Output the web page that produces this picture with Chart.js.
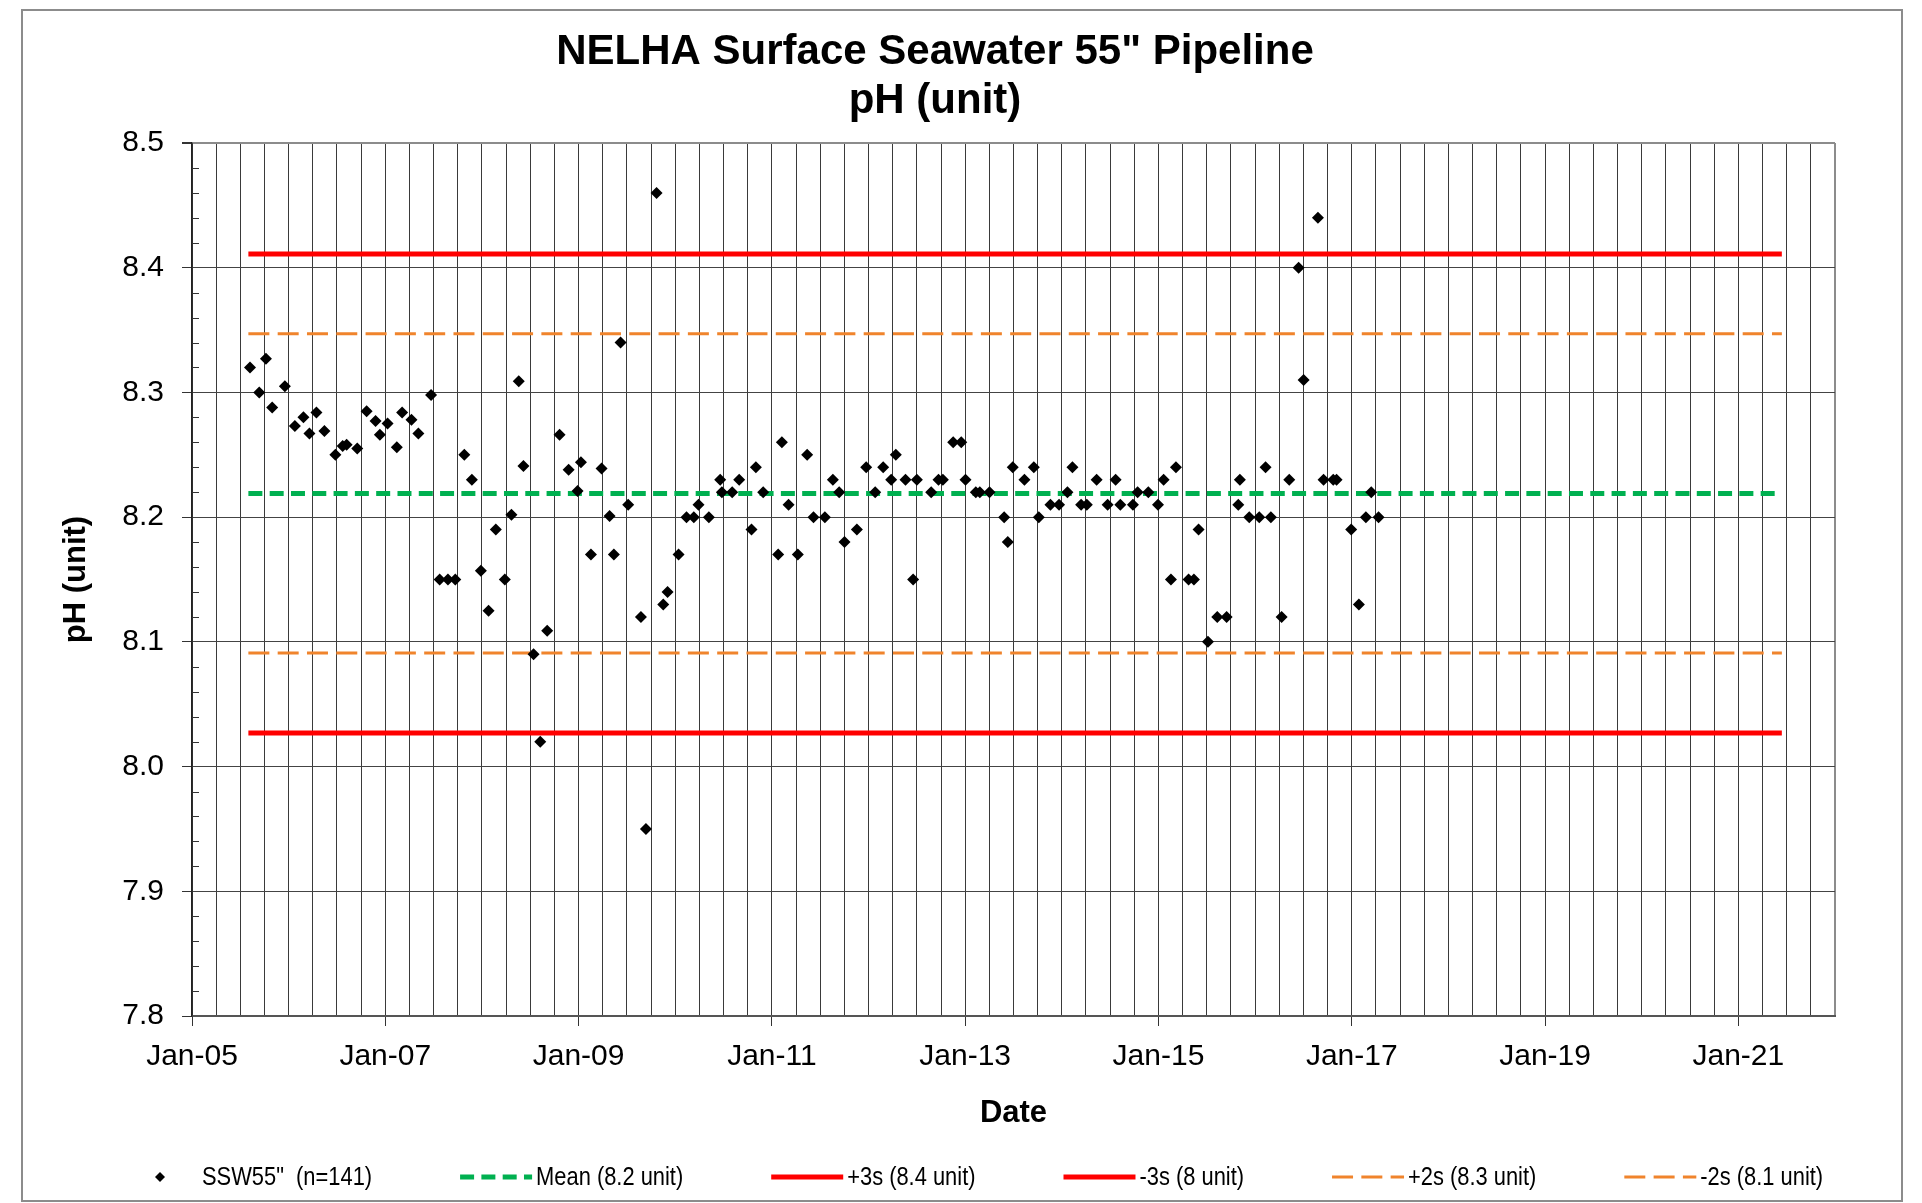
<!DOCTYPE html>
<html>
<head>
  <meta charset="utf-8">
  <title>NELHA Surface Seawater 55" Pipeline / pH</title>
  <script src="https://cdn.jsdelivr.net/npm/chart.js@4/dist/chart.umd.min.js"></script>
  <style>
    html, body { margin: 0; padding: 0; background: #fff; }
    #chartPH { display: block; }
  </style>
</head>
<body>
<canvas id="chartPH" width="1922" height="1203"></canvas>

<script>
  // sample dates, as months since Jan 2005
  var sampleMonths = [
    7.20, 8.35, 9.18, 9.96, 11.53, 12.77, 13.84, 14.58, 15.45, 16.44, 17.80, 18.71, 19.20, 20.52, 21.68, 22.79, 23.33, 24.28,
    25.43, 26.09, 27.25, 28.11, 29.68, 30.75, 31.78, 32.69, 33.81, 34.75, 35.87, 36.82, 37.72, 38.84, 39.66, 40.57, 41.15,
    42.41, 43.24, 44.10, 45.64, 46.76, 47.87, 48.29, 49.53, 50.85, 51.85, 52.38, 53.21, 54.16, 55.74, 56.36, 57.68, 58.51,
    59.05, 60.41, 61.40, 62.31, 62.89, 64.18, 65.58, 65.79, 67.07, 67.94, 69.47, 70.01, 70.92, 72.78, 73.24, 74.07, 75.22, 76.38,
    77.17, 78.58, 79.57, 80.36, 81.02, 82.55, 83.71, 84.83, 85.82, 86.81, 87.39, 88.59, 89.54, 90.00, 91.78, 92.69, 93.23,
    94.51, 95.51, 96.04, 97.32, 97.82, 99.02, 100.84, 101.29, 101.91, 103.36, 104.52, 105.14, 106.59, 107.66, 108.70, 109.32, 110.40, 111.10,
    112.32, 113.69, 114.68, 115.26, 116.83, 117.41, 118.74, 119.94, 120.64, 121.55, 122.17, 123.74, 124.40, 124.98, 126.14, 127.30, 128.46, 129.91,
    130.11, 131.27, 132.51, 133.30, 133.96, 135.29, 136.24, 137.40, 138.02, 139.80, 140.50, 141.70, 142.11, 143.93, 144.88, 145.75, 146.42, 147.33
  ];
  // pH (unit) for each sample
  var phValues = [
    8.320, 8.300, 8.327, 8.288, 8.305, 8.273, 8.280, 8.267, 8.284, 8.269, 8.250, 8.257, 8.258, 8.255, 8.285, 8.277, 8.266, 8.275,
    8.256, 8.284, 8.278, 8.267, 8.298, 8.150, 8.150, 8.150, 8.250, 8.230, 8.157, 8.125, 8.190, 8.150, 8.202, 8.309, 8.241,
    8.090, 8.020, 8.109, 8.266, 8.238, 8.221, 8.244, 8.170, 8.239, 8.201, 8.170, 8.340, 8.210, 8.120, 7.950, 8.460, 8.130,
    8.140, 8.170, 8.200, 8.200, 8.210, 8.200, 8.230, 8.220, 8.220, 8.230, 8.190, 8.240, 8.220, 8.170, 8.260, 8.210, 8.170, 8.250,
    8.20, 8.20, 8.23, 8.22, 8.18, 8.19, 8.24, 8.22, 8.24, 8.23, 8.25, 8.23, 8.15, 8.23, 8.22, 8.23, 8.23,
    8.26, 8.26, 8.23, 8.22, 8.22, 8.22, 8.20, 8.18, 8.24, 8.23, 8.24, 8.20, 8.21, 8.21, 8.22, 8.24, 8.21, 8.21,
    8.23, 8.21, 8.23, 8.21, 8.21, 8.22, 8.22, 8.21, 8.23, 8.15, 8.24, 8.15, 8.15, 8.19, 8.10, 8.12, 8.12, 8.21,
    8.23, 8.20, 8.20, 8.24, 8.20, 8.12, 8.23, 8.40, 8.31, 8.44, 8.23, 8.23, 8.23, 8.19, 8.13, 8.20, 8.22, 8.20
  ];
  var seriesName = 'SSW55"  (n=141)';

  // control limits: mean, +-3s, +-2s
  var limitNames  = ['Mean (8.2 unit)', '+3s (8.4 unit)', '-3s (8 unit)', '+2s (8.3 unit)', '-2s (8.1 unit)'];
  var limitValues = [8.219, 8.411, 8.027, 8.347, 8.091];
  var limitSpan   = [7.0, 197.4];   // months since Jan 2005 covered by the limit lines

  // axis ranges
  var monthRange = [0, 204];        // Jan-05 .. Jan-22
  var phRange    = [7.8, 8.5];

  // line styles for the limits (same order as limitNames)
  var limitStyles = [
    {color: '#00b050', width: 5, dash: [14, 7.3]},
    {color: '#ff0000', width: 5, dash: []},
    {color: '#ff0000', width: 5, dash: []},
    {color: '#f0842c', width: 3, dash: [21, 8.3]},
    {color: '#f0842c', width: 3, dash: [21, 8.3]}
  ];

  var FONT = '"Liberation Sans", Arial, sans-serif';

  function isMajorPH(v) {
    return Math.abs(v * 10 - Math.round(v * 10)) < 1e-6;
  }

  var datasets = [{
    label: seriesName,
    data: sampleMonths.map(function(m, i) { return {x: m, y: phValues[i]}; }),
    showLine: false,
    pointStyle: 'rectRot',
    pointRadius: 6,
    pointBorderWidth: 0,
    pointBackgroundColor: '#000',
    borderColor: '#000',
    order: 0
  }];
  limitNames.forEach(function(name, i) {
    var st = limitStyles[i];
    datasets.push({
      label: name,
      data: [{x: limitSpan[0], y: limitValues[i]}, {x: limitSpan[1], y: limitValues[i]}],
      showLine: true,
      pointRadius: 0,
      borderColor: st.color,
      borderWidth: st.width,
      borderDash: st.dash,
      borderCapStyle: 'butt',
      order: 1
    });
  });

  // white page with the grey frame round the whole chart
  var frame = {
    id: 'frame',
    beforeDraw: function(chart) {
      var ctx = chart.ctx;
      ctx.save();
      ctx.fillStyle = '#fff';
      ctx.fillRect(0, 0, chart.width, chart.height);
      ctx.strokeStyle = '#8c8c8c';
      ctx.lineWidth = 2;
      ctx.strokeRect(22, 10, 1880, 1191);
      ctx.restore();
    }
  };

  // small inside tick marks for the 0.02 steps on the pH axis
  var minorTicks = {
    id: 'minorTicks',
    afterDraw: function(chart) {
      var ctx = chart.ctx, y = chart.scales.y, left = chart.chartArea.left;
      ctx.save();
      ctx.strokeStyle = '#333';
      ctx.lineWidth = 1;
      y.ticks.forEach(function(t) {
        if (isMajorPH(t.value)) return;
        var py = Math.round(y.getPixelForValue(t.value)) + 0.5;
        ctx.beginPath();
        ctx.moveTo(left, py);
        ctx.lineTo(left + 7, py);
        ctx.stroke();
      });
      ctx.restore();
    }
  };

  // legend in one row along the bottom, like the spreadsheet one
  // (no narrow font installed, so the text is squeezed a little)
  var bottomLegend = {
    id: 'bottomLegend',
    afterDraw: function(chart) {
      var ctx = chart.ctx;
      var x = 150, y = 1177, squeeze = 0.875;
      ctx.save();
      ctx.font = '25px ' + FONT;
      ctx.textBaseline = 'middle';
      chart.data.datasets.forEach(function(ds) {
        if (!ds.showLine) {
          ctx.fillStyle = ds.pointBackgroundColor;
          ctx.beginPath();
          ctx.moveTo(x + 10, y - 5);
          ctx.lineTo(x + 15, y);
          ctx.lineTo(x + 10, y + 5);
          ctx.lineTo(x + 5, y);
          ctx.closePath();
          ctx.fill();
          x += 52;
        } else {
          ctx.strokeStyle = ds.borderColor;
          ctx.lineWidth = ds.borderWidth;
          ctx.setLineDash(ds.borderDash);
          ctx.beginPath();
          ctx.moveTo(x, y);
          ctx.lineTo(x + 72, y);
          ctx.stroke();
          ctx.setLineDash([]);
          x += 76;
        }
        ctx.fillStyle = '#000';
        ctx.save();
        ctx.translate(x, y + 1);
        ctx.scale(squeeze, 1);
        ctx.fillText(ds.label, 0, 0);
        ctx.restore();
        x += ctx.measureText(ds.label).width * squeeze + 88;
      });
      ctx.restore();
    }
  };

  Chart.defaults.font.family = FONT;
  Chart.defaults.color = '#000';

  var chartPH = new Chart(document.getElementById('chartPH'), {
    type: 'scatter',
    data: {datasets: datasets},
    plugins: [frame, minorTicks, bottomLegend],
    options: {
      responsive: false,
      animation: false,
      devicePixelRatio: 1,
      layout: {padding: {left: 35, right: 87, top: 18, bottom: 67}},
      plugins: {
        legend: {display: false},
        tooltip: {enabled: false},
        title: {
          display: true,
          text: ['NELHA Surface Seawater 55" Pipeline', 'pH (unit)'],
          font: {family: FONT, size: 42, weight: 'bold', lineHeight: 49 / 42},
          color: '#000',
          padding: {top: 10, bottom: 17}
        }
      },
      scales: {
        x: {
          type: 'linear',
          min: monthRange[0],
          max: monthRange[1],
          afterFit: function(s) { s.height = 120; },
          ticks: {
            stepSize: 3,
            autoSkip: false,
            maxRotation: 0,
            padding: 13,
            font: {size: 30},
            callback: function(v) {
              if (v % 24 !== 0) return '';
              return 'Jan-' + ('0' + (5 + v / 12)).slice(-2);
            }
          },
          grid: {
            lineWidth: function(c) { return c.tick && c.tick.value === monthRange[1] ? 2 : 1; },
            color: function(c) { return c.tick && c.tick.value === monthRange[1] ? '#8c8c8c' : '#3a3a3a'; },
            tickLength: 10,
            tickColor: function(c) { return c.tick && c.tick.value % 24 === 0 ? '#333' : 'rgba(0,0,0,0)'; }
          },
          border: {color: '#555', width: 2},
          title: {
            display: true,
            text: 'Date',
            font: {size: 31, weight: 'bold'},
            padding: {top: 0, bottom: 4}
          }
        },
        y: {
          min: phRange[0],
          max: phRange[1],
          afterFit: function(s) { s.width = 157; },
          ticks: {
            stepSize: 0.02,
            autoSkip: false,
            padding: 18,
            font: {size: 30},
            callback: function(v) { return isMajorPH(v) ? v.toFixed(1) : ''; }
          },
          grid: {
            lineWidth: function(c) { return c.tick && Math.abs(c.tick.value - phRange[1]) < 1e-6 ? 2 : 1; },
            color: function(c) {
              if (!c.tick || !isMajorPH(c.tick.value)) return 'rgba(0,0,0,0)';
              return Math.abs(c.tick.value - phRange[1]) < 1e-6 ? '#8c8c8c' : '#444';
            },
            tickLength: 10,
            tickColor: function(c) { return c.tick && isMajorPH(c.tick.value) ? '#333' : 'rgba(0,0,0,0)'; }
          },
          border: {color: '#222', width: 1.5},
          title: {
            display: true,
            text: 'pH (unit)',
            font: {size: 31, weight: 'bold'},
            padding: {top: 23, bottom: 0}
          }
        }
      }
    }
  });
</script>
</body>
</html>
